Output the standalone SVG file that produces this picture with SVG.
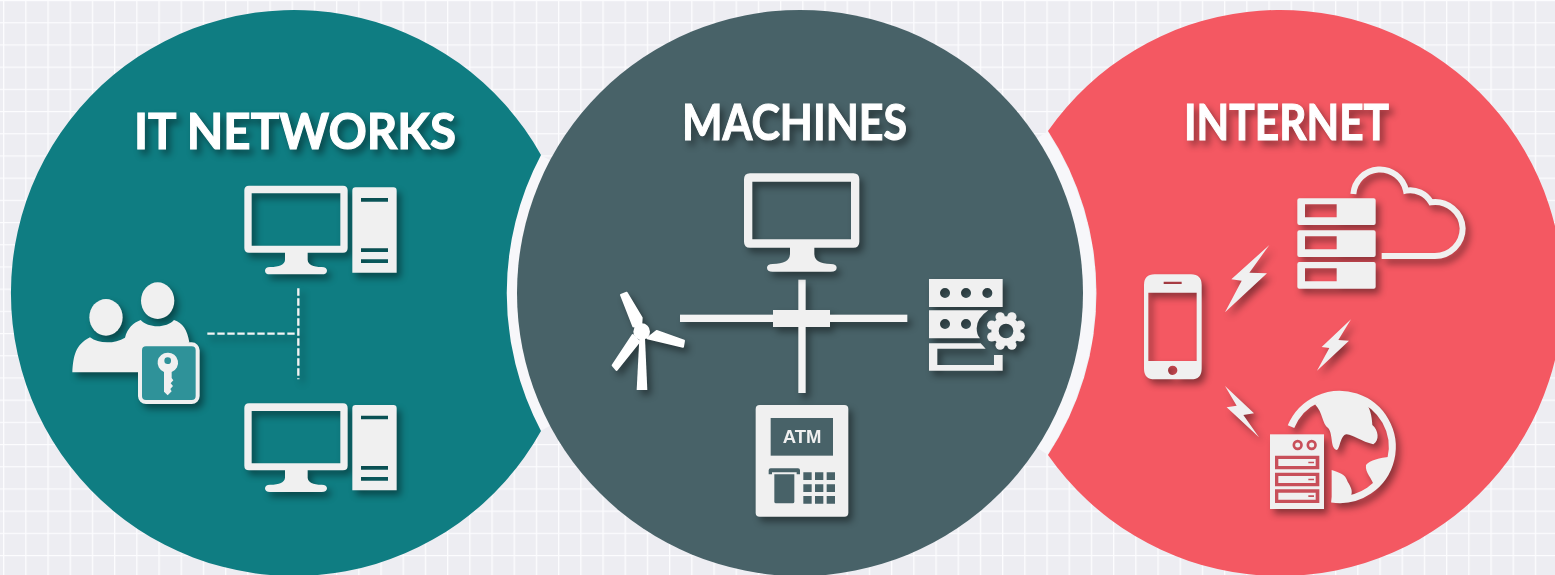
<svg xmlns="http://www.w3.org/2000/svg" width="1555" height="575" viewBox="0 0 1555 575">
<style>
.f{fill:#f0f0f0}
.s{filter:url(#sh)}
.t{font-family:"Lato","Open Sans","Liberation Sans",sans-serif;font-weight:700;font-size:50px;fill:#fff;stroke:#fff;stroke-width:1.1px;text-anchor:middle;filter:url(#sh)}
.teal{fill:#0f7d82}.slate{fill:#486268}.red{fill:#f45862}
.bar{fill:#f4f4f4}
</style>
<defs>
<filter id="sh" x="-30%" y="-30%" width="170%" height="170%" color-interpolation-filters="sRGB"><feDropShadow dx="4" dy="5" stdDeviation="3.500" flood-color="#000" flood-opacity="0.42"/></filter>
<pattern id="grid" width="22.2" height="22.2" patternUnits="userSpaceOnUse" x="3" y="0">
<rect width="22.2" height="22.2" fill="#ededf2"/>
<path d="M0 0H22.2M0 0V22.2" stroke="#fcfcfe" stroke-width="2.6" fill="none"/>
</pattern>
<g id="monitor"><path class="f" fill-rule="evenodd" d="M597 47H879Q893 47 893 61V234Q893 248 879 248H773V270Q775 291 815 291Q831 292 831 302Q831 313 815 313H660Q645 313 645 302Q645 292 660 291Q703 291 705 270V248H597Q583 248 583 234V61Q583 47 597 47ZM605 70V227H871V70Z"/></g>
<g id="tower"><path class="f" fill-rule="evenodd" d="M917 52H1030Q1040 52 1040 62V308H907V62Q907 52 917 52ZM933 84V95H1014V84ZM933 235V246H1014V235ZM933 268V279H1014V268Z"/></g>
</defs>
<rect id="background" width="1555" height="575" fill="url(#grid)"/>
<path id="gap-left" d="M546 158A289 289 0 0 0 546 428" fill="none" stroke="#f7f7fa" stroke-width="13"/>
<path id="gap-right" d="M1042 135A289 289 0 0 1 1042 451" fill="none" stroke="#f7f7fa" stroke-width="13"/>
<path id="circle-it" class="teal" d="M541 155A283 283 0 1 0 541 431A295 295 0 0 1 541 155Z"/>
<circle id="circle-machines" class="slate" cx="800" cy="293" r="283"/>
<path id="circle-internet" class="red" d="M1048 131A283 283 0 1 1 1048 455A295 295 0 0 0 1048 131Z"/>

<g id="label-it"><text class="t" x="295" y="149" textLength="322" lengthAdjust="spacingAndGlyphs">IT NETWORKS</text></g>
<g id="label-machines"><text class="t" x="794.500" y="140" textLength="225" lengthAdjust="spacingAndGlyphs">MACHINES</text></g>
<g id="label-internet"><text class="t" x="1286.500" y="140" textLength="205" lengthAdjust="spacingAndGlyphs">INTERNET</text></g>

<g id="connectors">
<g class="s"><g transform="translate(50 170) scale(.33333)"><path d="M472 491H745M745 355V628" fill="none" stroke="#f4f4f4" stroke-width="7" stroke-dasharray="22 8"/></g></g>
<g class="s"><g transform="translate(590 165) scale(.33333)"><rect class="bar" x="625" y="344" width="22" height="340"/><rect class="bar" x="270" y="449" width="682" height="22"/><rect class="f" x="549" y="435" width="171" height="51"/></g></g>
</g>

<g id="node-pc-top" class="s"><g transform="translate(50 170) scale(.33333)"><use href="#monitor"/><use href="#tower"/></g></g>
<g id="node-pc-bottom" class="s"><g transform="translate(50 387.700) scale(.33333)"><use href="#monitor"/><use href="#tower"/></g></g>
<g id="node-users" class="s"><g transform="translate(50 170) scale(.33333)">
<ellipse class="f" cx="168" cy="442" rx="50" ry="55"/>
<ellipse class="f" cx="323" cy="392" rx="50" ry="55"/>
<path class="f" d="M67 607C70 560 75 525 120 502C145 522 195 522 225 503C232 475 250 458 272 450C295 475 350 475 372 450C398 458 412 480 418 517L270 607Z"/>
<rect x="270" y="523" width="173" height="173" rx="18" fill="#2f9299" stroke="#f0f0f0" stroke-width="12"/>
<path class="f" fill-rule="evenodd" d="M353 548A30 30 0 0 1 365 606V624L370 631L362 640L369 648L361 657L365 664L353 676L342 665V606A30 30 0 0 1 353 548ZM353 562A10 10 0 1 0 353.100 582A10 10 0 1 0 353 562Z"/>
</g></g>

<g id="node-monitor" class="s"><g transform="translate(590 165) scale(.33333)">
<path class="f" fill-rule="evenodd" d="M480 25H790Q808 25 808 43V230Q808 248 790 248H673V268Q675 297 722 297Q740 298 740 308Q740 320 722 320H548Q531 320 531 308Q531 298 548 297Q598 297 600 268V248H480Q462 248 462 230V43Q462 25 480 25ZM487 50V223H783V50Z"/>
</g></g>
<g id="node-turbine" class="s"><g transform="translate(590 165) scale(.33333)">
<path fill="#fff" d="M148 520H165L172 675H140Z"/>
<circle cx="155" cy="500" r="25" fill="#fff"/>
<path fill="#fff" stroke="#fff" stroke-width="6" stroke-linejoin="round" d="M93 390L110 383L155 458L153 490L130 484Z"/>
<path fill="#fff" stroke="#fff" stroke-width="6" stroke-linejoin="round" d="M172 520L200 498L282 527L279 545Z"/>
<path fill="#fff" stroke="#fff" stroke-width="6" stroke-linejoin="round" d="M128 510L148 530L80 615L68 601Z"/>
</g></g>
<g id="node-server-gear" class="s"><g transform="translate(590 165) scale(.33333)">
<path class="f" fill-rule="evenodd" d="M1017 342H1238V426H1017ZM1065 369A15 15 0 1 0 1065.100 399A15 15 0 1 0 1065 369ZM1128 369A15 15 0 1 0 1128.100 399A15 15 0 1 0 1128 369ZM1192 369A15 15 0 1 0 1192.100 399A15 15 0 1 0 1192 369Z"/>
<path class="f" fill-rule="evenodd" d="M1017 436H1195Q1160 460 1160 490Q1160 510 1170 520H1017ZM1065 462A15 15 0 1 0 1065.100 492A15 15 0 1 0 1065 462ZM1128 462A15 15 0 1 0 1128.100 492A15 15 0 1 0 1128 462Z"/>
<path class="f" d="M1017 535H1172L1187 551H1042V600H1212V570H1238V617H1017Z"/>
<path class="f" fill-rule="evenodd" d="M1248 454A44 44 0 1 1 1247.900 454ZM1248 476A22 22 0 1 0 1248.100 520A22 22 0 1 0 1248 476Z"/>
<g class="f"><circle cx="1290.500" cy="480.400" r="14"/><circle cx="1290.500" cy="515.600" r="14"/><circle cx="1205.500" cy="480.400" r="14"/><circle cx="1205.500" cy="515.600" r="14"/><circle cx="1265.600" cy="455.500" r="14"/><circle cx="1230.400" cy="455.500" r="14"/><circle cx="1265.600" cy="540.500" r="14"/><circle cx="1230.400" cy="540.500" r="14"/></g>
</g></g>
<g id="node-atm" class="s"><g transform="translate(590 165) scale(.33333)">
<rect class="f" x="497" y="720" width="278" height="335" rx="12"/>
<rect class="slate" x="542" y="759" width="187" height="113"/>
<path class="slate" d="M542 910H624Q630 910 630 916V928H620V922H546V928H536V916Q536 910 542 910Z"/>
<path class="slate" d="M553 928H613V1010Q613 1015 608 1015H558Q553 1015 553 1010Z"/>
<path class="slate" d="M640 922h25v23h-25zM675 922h25v23h-25zM710 922h25v23h-25zM640 958h25v23h-25zM675 958h25v23h-25zM710 958h25v23h-25zM640 993h25v23h-25zM675 993h25v23h-25zM710 993h25v23h-25z"/>
</g><text x="802" y="443.300" font-family="'Liberation Sans',Arial,sans-serif" font-weight="700" font-size="18.500" fill="#f0f0f0" text-anchor="middle">ATM</text></g>

<g id="node-phone" class="s"><g transform="translate(1130 160) scale(.33333)">
<path class="f" fill-rule="evenodd" d="M74 343H183Q215 343 215 375V626Q215 658 183 658H74Q42 658 42 626V375Q42 343 74 343ZM55 398V603H200V398ZM101 365V372H155V365ZM128 617A14 14 0 1 0 128.100 645A14 14 0 1 0 128 617Z"/>
</g></g>
<g id="bolts" class="s"><g transform="translate(1130 160) scale(.33333)">
<path class="f" d="M418 255L358 338L411 340L285 457L335 362L304 358Z"/>
<path class="f" d="M663 478L625 540L657 542L561 632L598 564L575 561Z"/>
<path class="f" d="M285 678L372 760L340 765L387 832L290 742L320 737Z"/>
</g></g>
<g id="node-cloud-server" class="s"><g transform="translate(1130 160) scale(.33333)">
<path d="M670 102A80 80 0 0 1 828 92A72 72 0 0 1 903 127A83 83 0 0 1 998 205A83 83 0 0 1 915 288H755" fill="none" stroke="#f0f0f0" stroke-width="18"/>
<path class="f" fill-rule="evenodd" d="M508 115H731Q737 115 737 121V189Q737 195 731 195H508Q502 195 502 189V121Q502 115 508 115ZM525 133V172H620V133Z"/>
<path class="f" fill-rule="evenodd" d="M508 211H731Q737 211 737 217V285Q737 291 731 291H508Q502 291 502 285V217Q502 211 508 211ZM525 229V268H620V229Z"/>
<path class="f" fill-rule="evenodd" d="M508 306H731Q737 306 737 312V380Q737 386 731 386H508Q502 386 502 380V312Q502 306 508 306ZM525 325V364H620V325Z"/>
</g></g>
<g id="node-globe-server" class="s"><g transform="translate(1265 385) scale(.33333)">
<path d="M78 125A158 158 0 1 1 200 342" fill="none" stroke="#f0f0f0" stroke-width="21"/>
<path class="f" d="M150 58C175 85 170 115 190 130C205 150 195 190 215 195C225 195 225 150 245 148C265 150 290 170 325 178C345 165 340 135 322 120C320 90 315 70 303 55C250 20 195 25 150 58Z"/>
<path class="f" d="M375 215C345 218 315 225 303 240C300 265 320 275 330 310C355 285 370 260 375 215Z"/>
<path class="f" d="M200 255C225 265 240 265 248 290C260 310 265 320 255 340L200 350Z"/>
<rect class="f" x="15" y="148" width="162" height="224"/>
<circle cx="98" cy="180" r="11.500" class="f" stroke="#c8505a" stroke-width="8"/>
<circle cx="140" cy="180" r="11.500" class="f" stroke="#c8505a" stroke-width="8"/>
<path fill="#c8505a" fill-rule="evenodd" d="M30 212H163V253H30ZM40 222V243H152V222ZM130 230H147V235H130Z"/>
<path fill="#c8505a" fill-rule="evenodd" d="M30 263H163V304H30ZM40 273V294H152V273ZM130 281H147V286H130Z"/>
<path fill="#c8505a" fill-rule="evenodd" d="M30 313H163V354H30ZM40 323V344H152V323ZM130 331H147V336H130Z"/>
</g></g>
</svg>
